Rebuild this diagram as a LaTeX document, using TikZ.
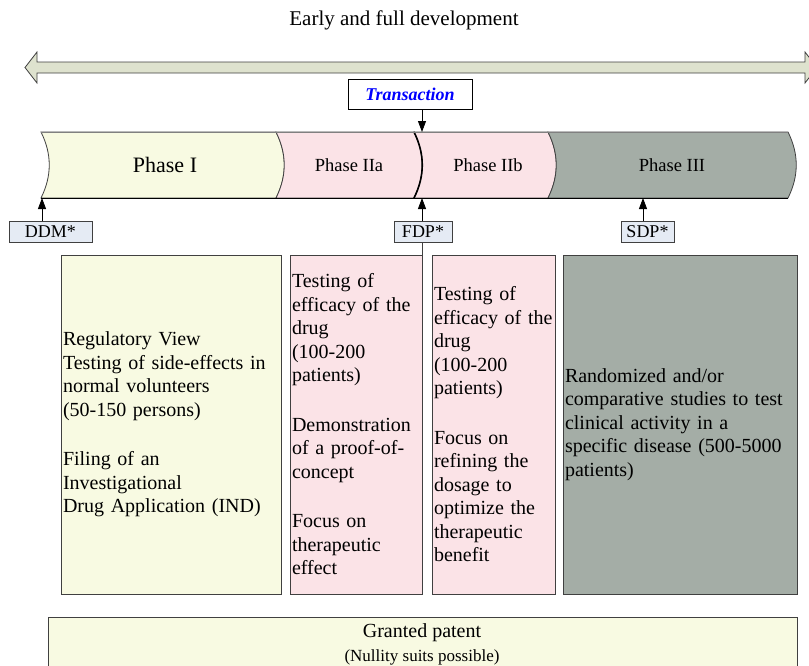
\documentclass[tikz,border=0pt]{standalone}
\usepackage{fontspec}
\setmainfont{Liberation Serif}
\usetikzlibrary{arrows.meta}

\definecolor{creamfill}{HTML}{F8FAE2}
\definecolor{pinkfill}{HTML}{FBE3E7}
\definecolor{slatefill}{HTML}{A4ADA6}
\definecolor{tagfill}{HTML}{E5EBF4}
\definecolor{arrowfill}{HTML}{DEE2CE}
\definecolor{edgegray}{HTML}{404040}

% one chevron-like segment of the phase band: left x, right x, fill colour
\newcommand\bandseg[3]{%
  \filldraw[segment, fill=#3] (#1,132) -- (#2,132)
    .. controls (#2+11,154) and (#2+11,176) .. (#2,198) -- (#1,198)
    .. controls (#1+11,176) and (#1+11,154) .. (#1,132) -- cycle;}

\begin{document}
\begin{tikzpicture}[x=1pt,y=-1pt,
  every node/.style={inner sep=0pt, outer sep=0pt},
  tip/.style={-{Triangle[length=11pt,width=8pt]}, line width=0.8pt, black},
  tagbox/.style={draw=edgegray, fill=tagfill, line width=0.8pt,
    minimum height=21pt, font=\fontsize{18}{20}\selectfont},
  infobox/.style={draw=edgegray, line width=0.8pt, minimum height=339pt,
    align=left, inner xsep=2pt, font=\fontsize{20}{23.5}\selectfont},
  segment/.style={draw=edgegray, line width=0.8pt},
  phaselabel/.style={font=\fontsize{18.5}{20}\selectfont},
]
\useasboundingbox (0,0) rectangle (809,665);
\fill[white] (0,0) rectangle (809,665);

% heading and the two-headed time arrow
\node[font=\fontsize{21}{23}\selectfont] (title) at (404,20) {Early and full development};
\filldraw[draw=edgegray, fill=arrowfill, line width=0.8pt]
  (25,67.5) -- (37,52) -- (37,62) -- (805,62) -- (805,52) -- (817,67.5)
  -- (805,83) -- (805,73) -- (37,73) -- (37,83) -- cycle;

% phase band
\bandseg{41}{276}{creamfill}
\bandseg{276}{414}{pinkfill}
\bandseg{414}{548}{pinkfill}
\bandseg{548}{788}{slatefill}
\draw[line width=1.6pt, black] (414,132) .. controls (425,154) and (425,176) .. (414,198);
\draw[line width=0.8pt, gray] (41,132) -- (788,132);
\draw[line width=0.8pt, black] (41,198) -- (788,198);

\node[font=\fontsize{22}{24}\selectfont] (ph1) at (165,165) {Phase I};
\node[phaselabel] (ph2a) at (349,165) {Phase IIa};
\node[phaselabel] (ph2b) at (488,165) {Phase IIb};
\node[phaselabel] (ph3) at (672,165) {Phase III};

% milestone points on the band
\coordinate (txIn) at (422,132);
\coordinate (ddmIn) at (42,198);
\coordinate (fdpIn) at (422,198);
\coordinate (sdpIn) at (643,198);

% milestone tags
\node[draw=black, fill=white, line width=0.8pt, minimum width=124pt,
  minimum height=30pt, text=blue,
  font=\fontsize{18}{20}\selectfont\bfseries\itshape] (tx) at (410,94) {Transaction};
\node[tagbox, minimum width=83pt] (ddm) at (50.5,231.5) {DDM*};
\node[tagbox, minimum width=58pt] (fdp) at (423,231.5) {FDP*};
\node[tagbox, minimum width=53pt] (sdp) at (647.5,231.5) {SDP*};

% phase descriptions
\node[infobox, fill=creamfill, text width=216pt] (p1) at (171,424.5)
  {Regulatory View\\
   Testing of side-effects in\\
   normal volunteers\\
   (50-150 persons)\\[26pt]
   Filing of an\\
   Investigational\\
   Drug Application (IND)};
\node[infobox, fill=pinkfill, text width=128pt] (p2a) at (356,424.5)
  {Testing of\\
   efficacy of the\\
   drug\\
   (100-200\\
   patients)\\[26pt]
   Demonstration\\
   of a proof-of-\\
   concept\\[26pt]
   Focus on\\
   therapeutic\\
   effect};
\node[infobox, fill=pinkfill, text width=119pt] (p2b) at (493.5,424.5)
  {Testing of\\
   efficacy of the\\
   drug\\
   (100-200\\
   patients)\\[26pt]
   Focus on\\
   refining the\\
   dosage to\\
   optimize the\\
   therapeutic\\
   benefit};
\node[infobox, fill=slatefill, text width=230pt] (p3) at (680,424.5)
  {Randomized and/or\\
   comparative studies to test\\
   clinical activity in a\\
   specific disease (500-5000\\
   patients)};

% connectors
\draw[tip] (tx.south -| txIn) -- (txIn);
\draw[tip] (ddm.north -| ddmIn) -- (ddmIn);
\draw[tip] (fdp.north -| fdpIn) -- (fdpIn);
\draw[tip] (sdp.north -| sdpIn) -- (sdpIn);
\draw[line width=0.8pt, edgegray] (fdp.south -| fdpIn) -- (p2a.north east);

% patent status
\node[draw=edgegray, fill=creamfill, line width=0.8pt, minimum width=749pt,
  minimum height=60pt, anchor=north] (gp) at (422.5,617) {};
\node[font=\fontsize{20}{22}\selectfont, anchor=base] (gptitle) at (422,637) {Granted patent};
\node[font=\fontsize{17}{19}\selectfont, anchor=base] (gpnote) at (422,661) {(Nullity suits possible)};
\end{tikzpicture}
\end{document}
